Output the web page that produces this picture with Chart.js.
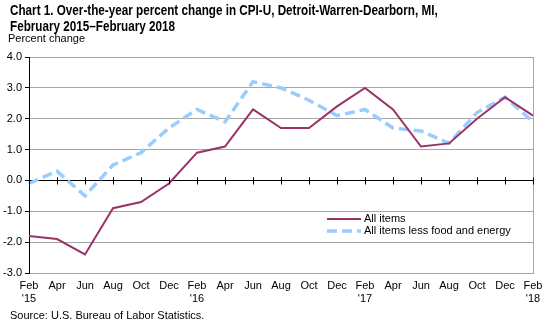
<!DOCTYPE html>
<html>
<head>
<meta charset="utf-8">
<script src="https://cdn.jsdelivr.net/npm/chart.js@4.4.1/dist/chart.umd.min.js"></script>
<style>
  html, body { margin: 0; padding: 0; background: #fff; }
  #wrap { position: relative; width: 551px; height: 326px; overflow: hidden; font-family: "Liberation Sans", Arial, sans-serif; }
  #title { position: absolute; left: 10px; top: 2px; font-size: 14px; font-weight: bold; line-height: 16px; color: #000; white-space: nowrap; transform-origin: 0 0; transform: scaleX(0.835); }
  #yTitle { position: absolute; left: 8px; top: 32px; font-size: 11px; color: #000; }
  #source { position: absolute; left: 10px; top: 309px; font-size: 11px; color: #000; }
  #chartBox { position: absolute; left: 0; top: 0; width: 551px; height: 326px; }
</style>
</head>
<body>
<div id="wrap">
  <div id="chartBox"><canvas id="cpiChart" width="551" height="326"></canvas></div>
  <div id="title">Chart 1. Over-the-year percent change in CPI-U, Detroit-Warren-Dearborn, MI,<br>February 2015–February 2018</div>
  <div id="yTitle">Percent change</div>
  <div id="source">Source: U.S. Bureau of Labor Statistics.</div>
</div>
<script>
// bimonthly periods, Feb 2015 - Feb 2018
var months = ["Feb", "Apr", "Jun", "Aug", "Oct", "Dec",
              "Feb", "Apr", "Jun", "Aug", "Oct", "Dec",
              "Feb", "Apr", "Jun", "Aug", "Oct", "Dec", "Feb"];
var years = ["'15", "", "", "", "", "", "'16", "", "", "", "", "", "'17", "", "", "", "", "", "'18"];

var allItems = [-1.8, -1.9, -2.4, -0.9, -0.7, -0.1, 0.9, 1.1, 2.3, 1.7, 1.7, 2.4, 3.0, 2.3, 1.1, 1.2, 2.0, 2.7, 2.1];
var coreItems = [-0.1, 0.3, -0.5, 0.5, 0.9, 1.7, 2.3, 1.9, 3.2, 3.0, 2.6, 2.1, 2.3, 1.7, 1.6, 1.2, 2.2, 2.7, 1.9];

var yMin = -3, yMax = 4, yStep = 1;

var labels = months.map(function (m, i) {
  return years[i] ? [m, years[i]] : m;
});

var fontFamily = "'Liberation Sans', Arial, sans-serif";

// frame on the right, and tick marks crossing the zero line
var axisDecor = {
  id: "axisDecor",
  afterDatasetsDraw: function (chart) {
    var ctx = chart.ctx;
    var area = chart.chartArea;
    var x = chart.scales.x;
    var y0 = Math.round(chart.scales.y.getPixelForValue(0)) + 0.5;
    ctx.save();
    ctx.strokeStyle = "#a6a6a6";
    ctx.lineWidth = 1;
    ctx.beginPath();
    ctx.moveTo(Math.round(area.right) + 0.5, area.top);
    ctx.lineTo(Math.round(area.right) + 0.5, area.bottom);
    ctx.stroke();
    ctx.strokeStyle = "#000";
    ctx.beginPath();
    for (var i = 0; i < labels.length; i++) {
      var px = Math.round(x.getPixelForValue(i)) + 0.5;
      ctx.moveTo(px, y0 - 3);
      ctx.lineTo(px, y0 + 4);
    }
    ctx.stroke();
    ctx.restore();
  }
};

// legend drawn inside the plot area
var innerLegend = {
  id: "innerLegend",
  afterDraw: function (chart) {
    var ctx = chart.ctx;
    var x0 = 327, x1 = 361, ys = [219, 231];
    ctx.save();
    ctx.font = "11px " + fontFamily;
    ctx.textBaseline = "middle";
    chart.data.datasets.forEach(function (ds, i) {
      ctx.strokeStyle = ds.borderColor;
      ctx.lineWidth = ds.borderWidth;
      ctx.setLineDash(ds.borderDash || []);
      ctx.beginPath();
      ctx.moveTo(x0, ys[i]);
      ctx.lineTo(x1, ys[i]);
      ctx.stroke();
      ctx.setLineDash([]);
      ctx.fillStyle = "#000";
      ctx.fillText(ds.label, x1 + 3, ys[i]);
    });
    ctx.restore();
  }
};

var ctx = document.getElementById("cpiChart").getContext("2d");
var chart = new Chart(ctx, {
  type: "line",
  data: {
    labels: labels,
    datasets: [
      {
        label: "All items",
        data: allItems,
        borderColor: "#993366",
        borderWidth: 2,
        pointRadius: 0,
        tension: 0,
        fill: false
      },
      {
        label: "All items less food and energy",
        data: coreItems,
        borderColor: "#99ccff",
        borderWidth: 3.5,
        borderDash: [10, 5],
        pointRadius: 0,
        tension: 0,
        fill: false
      }
    ]
  },
  options: {
    responsive: false,
    animation: false,
    layout: { padding: { left: 0, right: 18, top: 57, bottom: 0 } },
    plugins: {
      legend: { display: false },
      title: { display: false },
      tooltip: { enabled: false }
    },
    scales: {
      x: {
        offset: false,
        grid: { display: false, drawTicks: false },
        border: { display: true, color: "#a6a6a6", width: 1 },
        ticks: {
          autoSkip: false,
          maxRotation: 0,
          padding: 7,
          color: "#000",
          font: { family: fontFamily, size: 11, lineHeight: 1.15 }
        },
        afterFit: function (scale) { scale.height = 53; }
      },
      y: {
        min: yMin,
        max: yMax,
        ticks: {
          stepSize: yStep,
          padding: 3,
          color: "#000",
          font: { family: fontFamily, size: 11 },
          callback: function (v) { return v.toFixed(1); }
        },
        grid: {
          color: function (c) { return c.tick && c.tick.value === 0 ? "#000" : "#a6a6a6"; },
          tickColor: "#000",
          tickLength: 4,
          lineWidth: 1
        },
        border: { display: true, color: "#000", width: 1 },
        afterFit: function (scale) { scale.width = 29; }
      }
    }
  },
  plugins: [axisDecor, innerLegend]
});
</script>
</body>
</html>
